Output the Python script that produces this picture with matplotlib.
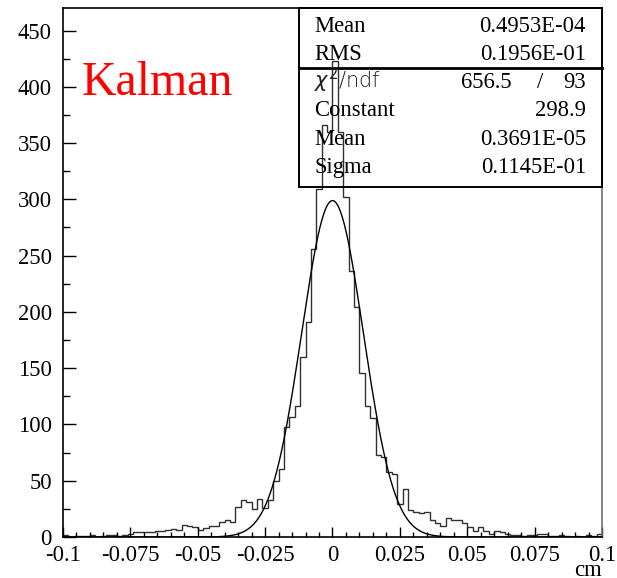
import numpy as np
import matplotlib
matplotlib.use("Agg")
import matplotlib.pyplot as plt

# residual histogram, 100 bins from -0.1 to 0.1 cm
xmin = -0.1
xmax = 0.1
nbins = 100
counts = [2, 0, 1, 1, 1, 2, 0, 1, 2, 2,
          1, 2, 3, 4, 4, 4, 4, 5, 5, 6,
          7, 6, 11, 10, 9, 6, 8, 10, 10, 13,
          15, 13, 27, 33, 31, 25, 34, 26, 33, 50,
          60, 98, 107, 116, 160, 191, 256, 309, 366, 360,
          423, 360, 302, 236, 204, 146, 116, 106, 73, 71,
          58, 56, 29, 43, 24, 22, 21, 22, 15, 12,
          10, 17, 15, 15, 12, 9, 5, 9, 5, 3,
          5, 4, 3, 2, 2, 1, 2, 2, 3, 3,
          1, 1, 2, 1, 0, 1, 0, 2, 1, 3]

# gaussian fit results
fit_const = 298.9
fit_mean = 0.3691e-05
fit_sigma = 0.1145e-01

stat_names = ["Mean", "RMS"]
stat_values = ["0.4953E-04", "0.1956E-01"]
fit_names = ["Constant", "Mean", "Sigma"]
fit_values = ["298.9", "0.3691E-05", "0.1145E-01"]
chi2 = "656.5"
ndf = "93"

xticks = [-0.1, -0.075, -0.05, -0.025, 0, 0.025, 0.05, 0.075, 0.1]
xticklabels = ["-0.1", "-0.075", "-0.05", "-0.025", "0", "0.025", "0.05", "0.075", "0.1"]
yticks = [0, 50, 100, 150, 200, 250, 300, 350, 400, 450]

W, H = 617, 578
serif = "Liberation Serif"
fs = 16.3


def fx(px):
    return px / W


def fy(py):
    return 1 - py / H


fig = plt.figure(figsize=(W / 100, H / 100), dpi=100)
fig.patch.set_facecolor("white")
ax = fig.add_axes([fx(63), fy(537), fx(602) - fx(63), fy(8) - fy(537)])

edges = np.linspace(xmin, xmax, nbins + 1)
ax.stairs(counts, edges, color="#303030", lw=1.0)

xf = np.linspace(xmin, xmax, 1000)
yf = fit_const * np.exp(-0.5 * ((xf - fit_mean) / fit_sigma) ** 2)
ax.plot(xf, yf, color="black", lw=1.0)

ax.set_xlim(xmin, xmax)
ax.set_ylim(0, 470)
ax.set_xticks(xticks)
ax.set_xticklabels(xticklabels)
ax.set_xticks(np.arange(-0.1, 0.1001, 0.005), minor=True)
ax.set_yticks(yticks)
ax.set_yticklabels([str(v) for v in yticks])
ax.set_yticks(np.arange(0, 470, 25), minor=True)
for lab in ax.get_xticklabels() + ax.get_yticklabels():
    lab.set_fontfamily(serif)
    lab.set_fontsize(fs)
ax.tick_params(axis="both", which="both", direction="in", top=False, right=False)
ax.tick_params(axis="x", which="major", length=7, width=1, pad=6)
ax.tick_params(axis="x", which="minor", length=3.5, width=1)
ax.tick_params(axis="y", which="major", length=9, width=1, pad=8)
ax.tick_params(axis="y", which="minor", length=5, width=1)
for s in ax.spines.values():
    s.set_linewidth(1.2)
    s.set_color("black")
ax.spines["right"].set_color("#707070")

fig.text(fx(602), fy(576), "cm", ha="right", va="baseline", family=serif, fontsize=fs)
fig.text(fx(82), fy(95), "Kalman", ha="left", va="baseline", family=serif,
         fontsize=34.5, color="red")

# stats box
box = plt.Rectangle((fx(299), fy(187)), fx(602) - fx(299), fy(8) - fy(187),
                    transform=fig.transFigure, fill=False, ec="black", lw=1.4)
fig.patches.append(box)
fig.add_artist(plt.Line2D([fx(299), fx(602)], [fy(67.5), fy(67.5)],
                          transform=fig.transFigure, color="black", lw=2))

rows = [31.5 + 28.3 * k for k in range(6)]
for name, val, py in zip(stat_names, stat_values, rows[:2]):
    fig.text(fx(314), fy(py), name, ha="left", va="baseline", family=serif, fontsize=fs)
    fig.text(fx(586), fy(py), val, ha="right", va="baseline", family=serif, fontsize=fs)

fig.text(fx(314), fy(rows[2]), r"$\chi^{2}$/ndf", ha="left", va="baseline",
         family="DejaVu Sans", fontsize=15, fontweight="light", color="#202020")
fig.text(fx(461), fy(rows[2]), chi2, ha="left", va="baseline", family=serif, fontsize=fs)
fig.text(fx(540), fy(rows[2]), "/", ha="center", va="baseline", family=serif, fontsize=fs)
fig.text(fx(586), fy(rows[2]), ndf, ha="right", va="baseline", family=serif, fontsize=fs)

for name, val, py in zip(fit_names, fit_values, rows[3:]):
    fig.text(fx(314), fy(py), name, ha="left", va="baseline", family=serif, fontsize=fs)
    fig.text(fx(586), fy(py), val, ha="right", va="baseline", family=serif, fontsize=fs)

fig.savefig("out.png", dpi=100)
